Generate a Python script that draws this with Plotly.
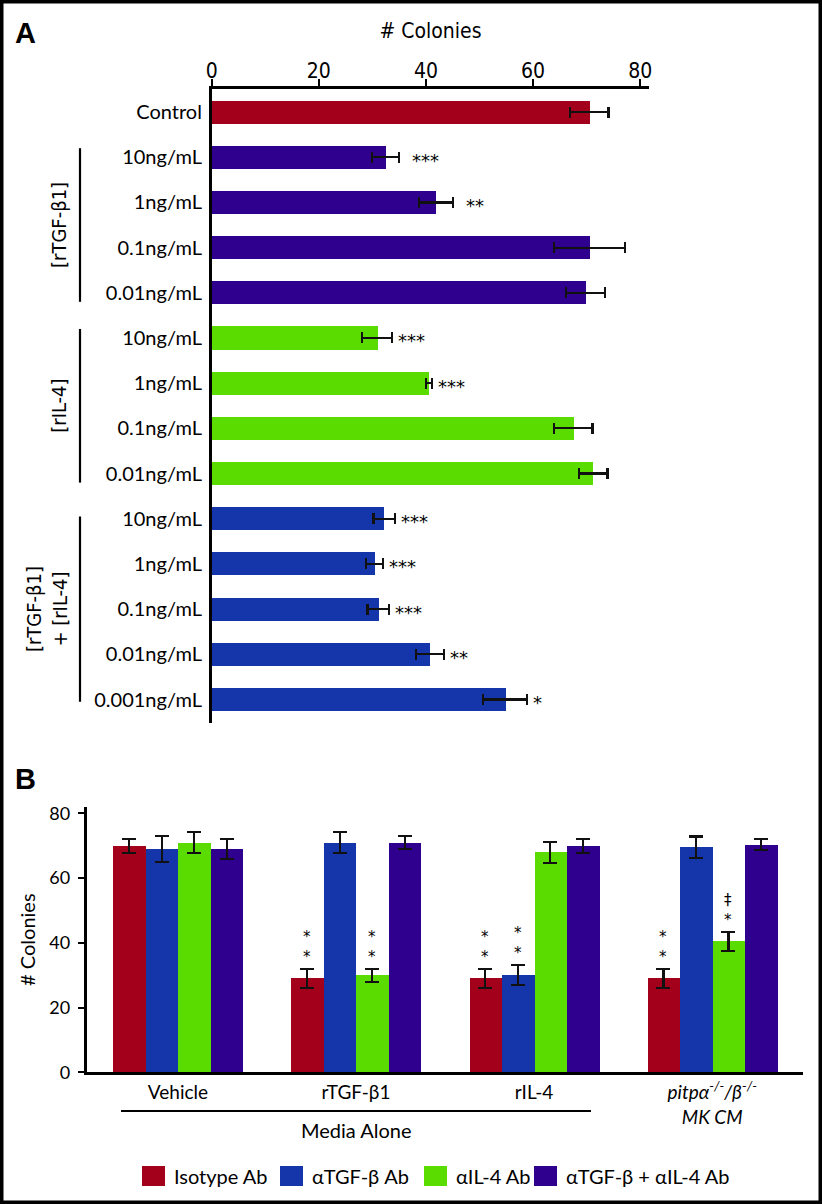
import plotly.graph_objects as go

# ---------------- DATA ----------------
# Panel A
labels_a = ["Control", "10ng/mL", "1ng/mL", "0.1ng/mL", "0.01ng/mL",
            "10ng/mL", "1ng/mL", "0.1ng/mL", "0.01ng/mL",
            "10ng/mL", "1ng/mL", "0.1ng/mL", "0.01ng/mL", "0.001ng/mL"]
values_a = [70.5, 32.4, 41.9, 70.5, 69.8, 30.9, 40.6, 67.5, 71.2, 32.2, 30.4, 31.1, 40.7, 54.8]
errors_a = [3.6, 2.5, 3.2, 6.6, 3.6, 2.8, 0.6, 3.6, 2.7, 2.0, 1.6, 2.0, 2.6, 4.1]
groups_a = ["Control", "rTGF", "rTGF", "rTGF", "rTGF", "rIL4", "rIL4", "rIL4", "rIL4",
            "combo", "combo", "combo", "combo", "combo"]
sig_a = ["", "***", "**", "", "", "***", "***", "", "", "***", "***", "***", "**", "*"]
group_titles_a = {"rTGF": "[rTGF-β1]", "rIL4": "[rIL-4]", "combo": "[rTGF-β1]<br>+ [rIL-4]"}
x_ticks_a = [0, 20, 40, 60, 80]

# Panel B
categories_b = ["Vehicle", "rTGF-β1", "rIL-4",
                "<i>pitpα<sup>-/-</sup>/β<sup>-/-</sup></i><br><i>MK CM</i>"]
series_b = ["Isotype Ab", "αTGF-β Ab", "αIL-4 Ab", "αTGF-β + αIL-4 Ab"]
isotype_vals = [70.0, 29.0, 29.0, 29.0]
isotype_err = [2.1, 3.0, 3.0, 3.0]
atgf_vals = [69.0, 71.0, 30.0, 69.6]
atgf_err = [4.1, 3.2, 3.1, 3.3]
ail4_vals = [71.0, 30.0, 68.0, 40.5]
ail4_err = [3.2, 2.0, 3.2, 2.9]
both_vals = [69.0, 71.0, 70.0, 70.3]
both_err = [3.0, 2.0, 2.1, 1.7]
isotype_sig = ["", "**", "**", "**"]
atgf_sig = ["", "", "**", ""]
ail4_sig = ["", "**", "", "*‡"]
both_sig = ["", "", "", ""]
y_ticks_b = [0, 20, 40, 60, 80]

# ---------------- STYLE ----------------
W, H = 822, 1204
RED, BLUE, GREEN, PURPLE = "#A3001B", "#1535AA", "#5BDC00", "#2F008E"
group_colors_a = {"Control": RED, "rTGF": PURPLE, "rIL4": GREEN, "combo": BLUE}
series_colors_b = [RED, BLUE, GREEN, PURPLE]
CAT_FONT = "Lato, 'Noto Sans', sans-serif"
NARROW = "'DejaVu Sans Condensed', 'DejaVu Sans', sans-serif"


def px_x(p):
    return p / W


def px_y(p):
    return 1 - p / H


fig = go.Figure()

# ---------------- PANEL A ----------------
rows = list(range(len(labels_a)))
fig.add_trace(go.Bar(
    x=values_a, y=rows, orientation="h",
    marker=dict(color=[group_colors_a[g] for g in groups_a], line=dict(width=0)),
    width=0.51,
    error_x=dict(type="data", array=errors_a, thickness=2.2, width=5.5, color="#111"),
    xaxis="x", yaxis="y", showlegend=False, hoverinfo="x+y",
))

for r, s in enumerate(sig_a):
    if s:
        fig.add_annotation(x=values_a[r] + errors_a[r], y=r, xref="x", yref="y",
                           text=s, showarrow=False, xanchor="left", yanchor="middle",
                           xshift=11 if groups_a[r] == "rTGF" else 4, yshift=-3,
                           font=dict(family="DejaVu Sans", size=18, color="black"))

# group brackets and titles
for g, title in group_titles_a.items():
    idx = [i for i, gg in enumerate(groups_a) if gg == g]
    y0, y1 = idx[0] - 0.2, idx[-1] + 0.2
    if g == "combo":
        y0, y1 = idx[0] - 0.05, idx[-1] + 0.05
    fig.add_shape(type="line", xref="paper", yref="y", x0=px_x(80), x1=px_x(80),
                  y0=y0, y1=y1, line=dict(color="black", width=2.2))
    fig.add_annotation(xref="paper", yref="y", x=px_x(47 if g == "combo" else 59),
                       y=(idx[0] + idx[-1]) / 2, text=title, textangle=-90,
                       showarrow=False, xanchor="center", yanchor="middle",
                       font=dict(family=NARROW, size=20, color="black"))

# ---------------- PANEL B ----------------
bar_w = 0.73 / 4
vals_b = [isotype_vals, atgf_vals, ail4_vals, both_vals]
errs_b = [isotype_err, atgf_err, ail4_err, both_err]
sigs_b = [isotype_sig, atgf_sig, ail4_sig, both_sig]
xs_b = list(range(len(categories_b)))
for i, name in enumerate(series_b):
    off = -0.365 + i * bar_w
    fig.add_trace(go.Bar(
        x=xs_b, y=vals_b[i], name=name, offset=off, width=bar_w,
        marker=dict(color=series_colors_b[i], line=dict(width=0)),
        error_y=dict(type="data", array=errs_b[i], thickness=2.2, width=7, color="#111"),
        xaxis="x2", yaxis="y2", showlegend=False,
    ))
    for c, s in enumerate(sigs_b[i]):
        if s:
            fig.add_annotation(x=c + off + bar_w / 2, y=vals_b[i][c] + errs_b[i][c],
                               xref="x2", yref="y2", text="<br>".join(reversed(s)),
                               showarrow=False, xanchor="center", yanchor="bottom",
                               yshift=1,
                               font=dict(family="DejaVu Sans", size=15, color="black"))

# Media Alone underline
fig.add_shape(type="line", xref="paper", yref="paper", x0=px_x(121), x1=px_x(591),
              y0=px_y(1111), y1=px_y(1111), line=dict(color="black", width=2))
fig.add_annotation(xref="paper", yref="paper", x=px_x(356), y=px_y(1130), text="Media Alone",
                   showarrow=False, xanchor="center", yanchor="middle",
                   font=dict(family=CAT_FONT, size=20, color="black"))

# Manual legend
leg_sq_x = [142, 280, 424, 534]
for i, name in enumerate(series_b):
    fig.add_shape(type="rect", xref="paper", yref="paper",
                  x0=px_x(leg_sq_x[i]), x1=px_x(leg_sq_x[i] + 23),
                  y0=px_y(1186), y1=px_y(1166),
                  fillcolor=series_colors_b[i], line=dict(width=0))
    fig.add_annotation(xref="paper", yref="paper", x=px_x(leg_sq_x[i] + 30), y=px_y(1176),
                       text=name, showarrow=False, xanchor="left", yanchor="middle",
                       font=dict(family=CAT_FONT, size=20, color="black"))

# Panel letters
fig.add_annotation(xref="paper", yref="paper", x=px_x(13), y=px_y(33), text="<b>A</b>",
                   showarrow=False, xanchor="left", yanchor="middle",
                   font=dict(family="Liberation Sans, Arial, sans-serif", size=29, color="black"))
fig.add_annotation(xref="paper", yref="paper", x=px_x(13), y=px_y(779), text="<b>B</b>",
                   showarrow=False, xanchor="left", yanchor="middle",
                   font=dict(family="Liberation Sans, Arial, sans-serif", size=29, color="black"))

# Outer frame
fig.add_shape(type="rect", xref="paper", yref="paper", x0=0, x1=1, y0=0, y1=1,
              line=dict(color="black", width=7), fillcolor="rgba(0,0,0,0)")

fig.update_layout(
    width=W, height=H, margin=dict(l=0, r=0, t=0, b=0), autosize=False,
    paper_bgcolor="white", plot_bgcolor="white", bargap=0,
    xaxis=dict(domain=[px_x(211.7), px_x(649.3)], range=[0, 81.7], side="top",
               anchor="y", tickvals=x_ticks_a, ticks="outside", ticklen=7, tickwidth=2.2,
               tickcolor="black", showline=True, linecolor="black", linewidth=2.5,
               showgrid=False, zeroline=False, ticklabelstandoff=-7, automargin=False,
               tickfont=dict(family=NARROW, size=21, color="black"),
               title=dict(text="# Colonies", standoff=15,
                          font=dict(family=NARROW, size=21, color="black"))),
    yaxis=dict(domain=[px_y(723), px_y(89)], range=[13.52, -0.51], anchor="x",
               tickvals=rows, ticktext=labels_a, ticks="", showline=True,
               linecolor="black", linewidth=2.5, showgrid=False, zeroline=False,
               ticklabelstandoff=3, automargin=False,
               tickfont=dict(family=CAT_FONT, size=20, color="black")),
    xaxis2=dict(domain=[px_x(86.6), px_x(803)], range=[-0.513, 3.51], anchor="y2",
                tickvals=xs_b, ticktext=categories_b, ticks="", showline=True,
                linecolor="black", linewidth=2.5, showgrid=False, zeroline=False,
                ticklabelstandoff=1, automargin=False,
                tickfont=dict(family=CAT_FONT, size=19, color="black")),
    yaxis2=dict(domain=[px_y(1072.3), px_y(807)], range=[0, 82], anchor="x2",
                tickvals=y_ticks_b, ticks="outside", ticklen=6, tickwidth=2,
                tickcolor="black", showline=True, linecolor="black", linewidth=2.5,
                showgrid=False, zeroline=False, ticklabelstandoff=4, automargin=False,
                tickfont=dict(family=CAT_FONT, size=18, color="black"),
                title=dict(text="# Colonies", standoff=9,
                           font=dict(family=CAT_FONT, size=20, color="black"))),
)

fig.write_html("out.html", config={"displayModeBar": False},
               post_script="document.body.style.margin='0';document.body.style.overflow='hidden';")
